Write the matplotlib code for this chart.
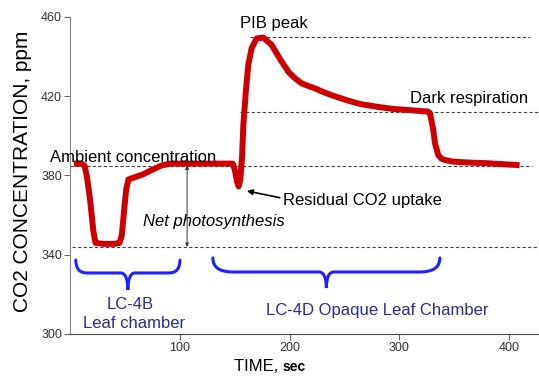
import numpy as np
import matplotlib
matplotlib.use('Agg')
import matplotlib.pyplot as plt
from matplotlib.path import Path
from matplotlib.patches import PathPatch

plt.rcParams['font.family'] = ['Liberation Sans', 'DejaVu Sans']

# CO2 trace (time in sec, concentration in ppm)
time_sec = [6, 10, 13, 15, 18, 21, 23, 30, 40, 45, 47, 49, 51, 53, 58, 66, 75,
            83, 91, 100, 120, 140, 148, 150, 152, 153.5, 155, 156.6, 157.8,
            160, 162.3, 165.4, 170, 176, 183.6, 191, 198.8, 205, 211, 217,
            223, 230, 238, 252, 265, 282, 296, 310, 320, 326, 328, 331, 332.5,
            335.5, 338.5, 341.7, 349, 365, 380, 395, 407]
co2_ppm = [386, 386, 385, 380, 368, 352, 346, 345.5, 345.5, 346, 350, 362,
           373, 378, 379, 380.5, 383, 385, 386, 386, 386, 386, 386, 383, 377,
           374.5, 378, 388.8, 405.5, 422, 435.8, 444.3, 449.2, 449.6, 445.9,
           439, 432.4, 429, 426.5, 425.2, 424, 422.3, 420.6, 418, 416,
           414.5, 413.5, 413, 412.5, 412.3, 411.5, 403, 396.4, 390.3, 388.5,
           387.8, 387, 386.5, 386.2, 385.7, 385.3]

# reference levels
ambient_level = 385
net_photo_level = 344
pib_peak_level = 450
dark_resp_level = 412

# chamber periods (sec)
lc4b_span = (5, 100)
lc4d_span = (130, 337)

xticks = [100, 200, 300, 400]
yticks = [300, 340, 380, 420, 460]

red = '#cc0000'
brace_blue = '#1f1fff'
navy = '#2b2b8c'
dash_col = '#444444'


def draw_brace(ax, x0, x1, y_top, y_flat, y_tip, r_end, r_tip):
    xm = 0.5 * (x0 + x1)
    verts = [(x0, y_top), (x0, y_flat), (x0 + r_end, y_flat),
             (xm - r_tip, y_flat),
             (xm, y_flat), (xm, y_tip),
             (xm, y_flat), (xm + r_tip, y_flat),
             (x1 - r_end, y_flat),
             (x1, y_flat), (x1, y_top)]
    codes = [Path.MOVETO, Path.CURVE3, Path.CURVE3,
             Path.LINETO,
             Path.CURVE3, Path.CURVE3,
             Path.CURVE3, Path.CURVE3,
             Path.LINETO,
             Path.CURVE3, Path.CURVE3]
    patch = PathPatch(Path(verts, codes), facecolor='none', edgecolor=brace_blue,
                      lw=2.2, clip_on=False, capstyle='round')
    ax.add_patch(patch)


fig = plt.figure(figsize=(5.39, 3.76), dpi=100)
ax = fig.add_axes([70.3 / 539, 42 / 376, 1 - 70.3 / 539, 317 / 376])
ax.set_xlim(0, 427.4)
ax.set_ylim(300, 460)

# dashed reference lines
dash_kw = dict(color=dash_col, lw=0.8, ls=(0, (3, 2)), zorder=1)
ax.plot([0, 421], [ambient_level] * 2, **dash_kw)
ax.plot([1.5, 427.4], [net_photo_level] * 2, **dash_kw)
ax.plot([164, 419], [pib_peak_level] * 2, **dash_kw)
ax.plot([155, 427.4], [dark_resp_level] * 2, **dash_kw)

# the trace
ax.plot(time_sec, co2_ppm, color=red, lw=4.3, solid_joinstyle='round', zorder=3)

# net photosynthesis arrow
ax.annotate('', xy=(106.5, net_photo_level), xytext=(106.5, ambient_level),
            arrowprops=dict(arrowstyle='<|-|>', color='#333333', lw=0.7,
                            mutation_scale=5, shrinkA=0, shrinkB=0))

# residual uptake arrow
ax.annotate('', xy=(161, 372.2), xytext=(191, 368.8),
            arrowprops=dict(arrowstyle='-|>', color='black', lw=1.2,
                            mutation_scale=8, shrinkA=0, shrinkB=0))

# annotations
fs = 12
ax.text(-18.5, 386.8, 'Ambient concentration', fontsize=fs, va='baseline',
        ha='left', clip_on=False)
ax.text(155, 454.4, 'PIB peak', fontsize=fs, va='baseline', ha='left')
ax.text(309.7, 416.6, 'Dark respiration', fontsize=fs, va='baseline', ha='left')
ax.text(66.4, 354.5, 'Net photosynthesis', fontsize=fs, va='baseline',
        ha='left', style='italic')
ax.text(194, 365.1, 'Residual CO2 uptake', fontsize=fs, va='baseline', ha='left')

# chamber braces and labels
draw_brace(ax, lc4b_span[0], lc4b_span[1], 337.3, 330.8, 322.2, 10, 6.5)
draw_brace(ax, lc4d_span[0], lc4d_span[1], 338.4, 331.3, 323.2, 18, 7)
ax.text(54.5, 312.6, 'LC-4B', fontsize=fs, va='baseline', ha='center', color=navy)
ax.text(58.5, 303, 'Leaf chamber', fontsize=fs, va='baseline', ha='center',
        color=navy)
ax.text(380.9, 309.6, 'LC-4D Opaque Leaf Chamber', fontsize=fs, va='baseline',
        ha='right', color=navy)

# axes styling
ax.spines['top'].set_visible(False)
ax.spines['right'].set_visible(False)
ax.spines['left'].set_color('#888888')
ax.spines['bottom'].set_color('#444444')
ax.set_xticks(xticks)
ax.set_xticklabels([str(t) for t in xticks], fontsize=9, color='#333333')
ax.set_yticks(yticks)
ax.set_yticklabels([str(t) for t in yticks], fontsize=9, color='#333333')
ax.tick_params(axis='both', length=4, width=0.8, color='#666666', pad=2)

fig.text(23 / 539, 1 - 171 / 376, 'CO2 CONCENTRATION, ppm', fontsize=15,
         rotation=90, ha='center', va='center')
fig.text(283 / 539, 1 - 371 / 376, 'TIME, ', fontsize=12, ha='right',
         va='baseline')
fig.text(283 / 539, 1 - 371 / 376, 'sec', fontsize=10, ha='left',
         va='baseline', weight='bold')

fig.savefig('out.png', dpi=100)
